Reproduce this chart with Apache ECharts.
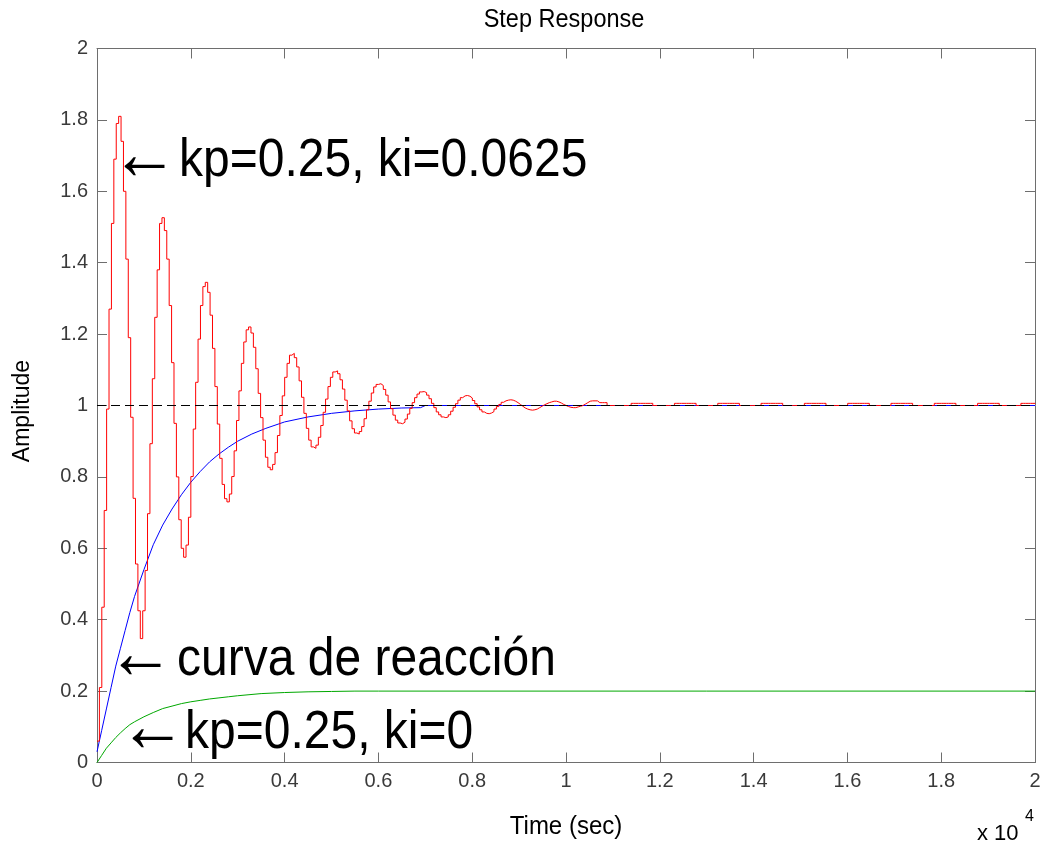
<!DOCTYPE html>
<html>
<head>
<meta charset="utf-8">
<script src="https://cdn.jsdelivr.net/npm/echarts@6/dist/echarts.min.js"></script>
<style>
html,body{margin:0;padding:0;background:#fff;}
#chart{width:1045px;height:846px;}
</style>
</head>
<body>
<div id="chart"></div>
<script>
// ---- data (time in seconds; axis shows x 10^4) ----
const sampleTime = 51.3; // red discrete response sample time (s)
const redValues = [
  0.06, 0.21, 0.435, 0.706, 0.99, 1.27, 1.51, 1.69, 1.79, 1.81,
  1.74, 1.60, 1.41, 1.19, 0.967, 0.74, 0.556, 0.425, 0.347,
  0.425, 0.538, 0.697, 0.893, 1.075, 1.247, 1.38, 1.51, 1.526,
  1.49, 1.41, 1.28, 1.12, 0.95, 0.80, 0.68, 0.60, 0.575,
  0.609, 0.687, 0.801, 0.934, 1.065, 1.186, 1.28, 1.333, 1.345,
  1.317, 1.253, 1.16, 1.053, 0.948, 0.852, 0.779, 0.739, 0.73,
  0.752, 0.801, 0.873, 0.958, 1.041, 1.118, 1.178, 1.212, 1.22,
  1.203, 1.163, 1.103, 1.034, 0.966, 0.903, 0.855, 0.827, 0.82,
  0.835, 0.868, 0.916, 0.972, 1.027, 1.079, 1.118, 1.141, 1.146,
  1.134, 1.108, 1.069, 1.023, 0.978, 0.936, 0.903, 0.884, 0.88,
  0.889, 0.911, 0.944, 0.981, 1.018, 1.053, 1.079, 1.094, 1.097,
  1.089, 1.072, 1.046, 1.015, 0.985, 0.957, 0.935, 0.923, 0.92,
  0.927, 0.941, 0.963, 0.988, 1.012, 1.035, 1.052, 1.059, 1.061,
  1.056, 1.045, 1.029, 1.01, 0.991, 0.973, 0.959, 0.951, 0.949,
  0.953, 0.962, 0.976, 0.992, 1.008, 1.022, 1.032, 1.038, 1.039,
  1.036, 1.029, 1.019, 1.006, 0.994, 0.982, 0.974, 0.968, 0.966,
  0.968, 0.974, 0.984, 0.995, 1.005, 1.015, 1.022, 1.027, 1.028,
  1.026, 1.021, 1.014, 1.005, 0.996, 0.988, 0.982, 0.978, 0.977,
  0.979, 0.983, 0.99, 0.997, 1.003, 1.009, 1.013, 1.015, 1.016,
  1.015, 1.012, 1.008, 1.003, 0.998, 0.993, 0.99, 0.988, 0.987,
  0.988, 0.99, 0.994, 0.998, 1.002, 1.005, 1.008, 1.01, 1.012,
  1.012, 1.01, 1.007, 1.003, 1.0, 0.997, 0.995, 0.994, 0.994,
  0.996, 0.998, 1.0, 1.004, 1.008, 1.012, 1.013, 1.013, 1.013, 1.008, 1.008, 1.008, 1.008, 1.0, 1.0,
  1, 1, 1, 1, 1, 1, 1, 1,
  1.006, 1.006, 1.006, 1.006, 1.006, 1.006, 1.006, 1.006, 1.006,
  1, 1, 1, 1, 1, 1, 1, 1, 1,
  1.006, 1.006, 1.006, 1.006, 1.006, 1.006, 1.006, 1.006, 1.006,
  1, 1, 1, 1, 1, 1, 1, 1, 1,
  1.006, 1.006, 1.006, 1.006, 1.006, 1.006, 1.006, 1.006, 1.006,
  1, 1, 1, 1, 1, 1, 1, 1, 1,
  1.006, 1.006, 1.006, 1.006, 1.006, 1.006, 1.006, 1.006, 1.006,
  1, 1, 1, 1, 1, 1, 1, 1, 1,
  1.006, 1.006, 1.006, 1.006, 1.006, 1.006, 1.006, 1.006, 1.006,
  1, 1, 1, 1, 1, 1, 1, 1, 1,
  1.006, 1.006, 1.006, 1.006, 1.006, 1.006, 1.006, 1.006, 1.006,
  1, 1, 1, 1, 1, 1, 1, 1, 1,
  1.006, 1.006, 1.006, 1.006, 1.006, 1.006, 1.006, 1.006, 1.006,
  1, 1, 1, 1, 1, 1, 1, 1, 1,
  1.006, 1.006, 1.006, 1.006, 1.006, 1.006, 1.006, 1.006, 1.006,
  1, 1, 1, 1, 1, 1, 1, 1, 1,
  1.006, 1.006, 1.006, 1.006, 1.006, 1.006, 1.006, 1.006, 1.006,
  1, 1, 1, 1, 1, 1, 1, 1, 1,
  1.006, 1.006, 1.006, 1.006, 1.006, 1.006, 1.006
];
const blueTime = [0, 100, 200, 300, 400, 500, 600, 700, 800, 1000, 1200, 1400, 1600, 1800, 2000, 2200, 2400, 2600, 2800, 3000, 3300, 3600, 4000, 4500, 5000, 5500, 6000, 6500, 6900, 7000, 9000, 20000];
const blueValues = [0.03, 0.09, 0.15, 0.21, 0.27, 0.32, 0.37, 0.42, 0.465, 0.54, 0.61, 0.665, 0.71, 0.75, 0.785, 0.815, 0.842, 0.864, 0.883, 0.9, 0.92, 0.936, 0.954, 0.968, 0.978, 0.985, 0.99, 0.993, 0.994, 1.0, 1.0, 1.0];
const greenTime = [0, 100, 200, 300, 400, 500, 600, 700, 800, 1000, 1200, 1400, 1600, 1800, 2000, 2200, 2400, 2600, 2800, 3000, 3500, 4000, 4500, 5000, 5500, 6000, 20000];
const greenValues = [0.0, 0.02, 0.04, 0.055, 0.07, 0.083, 0.095, 0.106, 0.114, 0.128, 0.14, 0.151, 0.158, 0.165, 0.17, 0.174, 0.178, 0.181, 0.184, 0.187, 0.193, 0.196, 0.198, 0.199, 0.2, 0.2, 0.2];
const referenceLevel = 1;
const xRange = [0, 20000];
const yRange = [0, 2];
const xTickStep = 2000;
const yTickStep = 0.2;
const xScaleExponent = 4;

const titleText = 'Step Response';
const xName = 'Time (sec)';
const yName = 'Amplitude';
const annotations = ['kp=0.25, ki=0.0625', 'curva de reacción', 'kp=0.25, ki=0'];

// ---- chart ----
const FONT = '"Liberation Sans", Arial, Helvetica, sans-serif';
const axisColor = '#6e6e6e';
const labelColor = '#3a3a3a';

const redData = redValues.map((v, i) => [i * sampleTime, v]);
const blueData = blueValues.map((v, i) => [blueTime[i], v]);
const greenData = greenValues.map((v, i) => [greenTime[i], v]);

function makeX(position, showLabel) {
  return {
    type: 'value', position: position, min: xRange[0], max: xRange[1], interval: xTickStep,
    axisLine: { show: true, onZero: false, lineStyle: { color: axisColor, width: 1 } },
    axisTick: { show: true, inside: true, length: 10, lineStyle: { color: axisColor } },
    axisLabel: showLabel ? {
      show: true, margin: 9, color: labelColor, fontSize: 20, fontFamily: FONT,
      formatter: v => String(+(v / Math.pow(10, xScaleExponent)).toFixed(4))
    } : { show: false },
    splitLine: { show: false }
  };
}
function makeY(position, showLabel) {
  return {
    type: 'value', position: position, min: yRange[0], max: yRange[1], interval: yTickStep,
    axisLine: { show: true, onZero: false, lineStyle: { color: axisColor, width: 1 } },
    axisTick: { show: true, inside: true, length: 10, lineStyle: { color: axisColor } },
    axisLabel: showLabel ? {
      show: true, margin: 9, color: labelColor, fontSize: 20, fontFamily: FONT,
      formatter: v => String(+v.toFixed(4))
    } : { show: false },
    splitLine: { show: false }
  };
}

const chart = echarts.init(document.getElementById('chart'), null, { renderer: 'canvas' });

function txt(text, x, y, size, align, extra) {
  return Object.assign({
    type: 'text', x: x, y: y, silent: true,
    style: { text: text, fontSize: size, fontFamily: FONT, fill: '#000', align: align, verticalAlign: 'middle' }
  }, extra || {});
}

chart.setOption({
  animation: false,
  backgroundColor: '#fff',
  grid: { left: 97, top: 48.5, width: 938, height: 714, containLabel: false },
  xAxis: [makeX('bottom', true), makeX('top', false)],
  yAxis: [makeY('left', true), makeY('right', false)],
  series: [
    { type: 'line', data: blueData, showSymbol: false, symbol: 'none', lineStyle: { color: '#0000ff', width: 1 }, silent: true },
    { type: 'line', data: greenData, showSymbol: false, symbol: 'none', lineStyle: { color: '#00a800', width: 1 }, silent: true },
    { type: 'line', data: redData, step: 'end', showSymbol: false, symbol: 'none', lineStyle: { color: '#ff0000', width: 1 }, silent: true },
    { type: 'line', data: [[xRange[0], referenceLevel], [xRange[1], referenceLevel]], showSymbol: false, symbol: 'none',
      lineStyle: { color: '#000', width: 1, type: [9, 5] }, silent: true }
  ],
  graphic: [
    txt(titleText, 564, 20, 23.5, 'center', { scaleY: 1.08 }),
    txt(xName, 566, 827, 24, 'center', { scaleY: 1.08 }),
    txt(yName, 22, 411, 23, 'center', { rotation: Math.PI / 2, scaleY: 1.08 }),
    txt('x 10', 977, 834, 22, 'left'),
    txt(String(xScaleExponent), 1025, 817, 16, 'left'),
    txt('\u2190', 111, 158, 64, 'left', { scaleX: 1.05, scaleY: 1.2 }),
    txt(annotations[0], 179, 161, 48, 'left', { scaleY: 1.1 }),
    txt('\u2190', 107, 657, 64, 'left', { scaleX: 1.05, scaleY: 1.2 }),
    txt(annotations[1], 177, 660, 48, 'left', { scaleY: 1.1 }),
    txt('\u2190', 119, 730, 64, 'left', { scaleX: 1.05, scaleY: 1.2 }),
    txt(annotations[2], 185, 733, 48, 'left', { scaleY: 1.1 })
  ]
});
</script>
</body>
</html>
